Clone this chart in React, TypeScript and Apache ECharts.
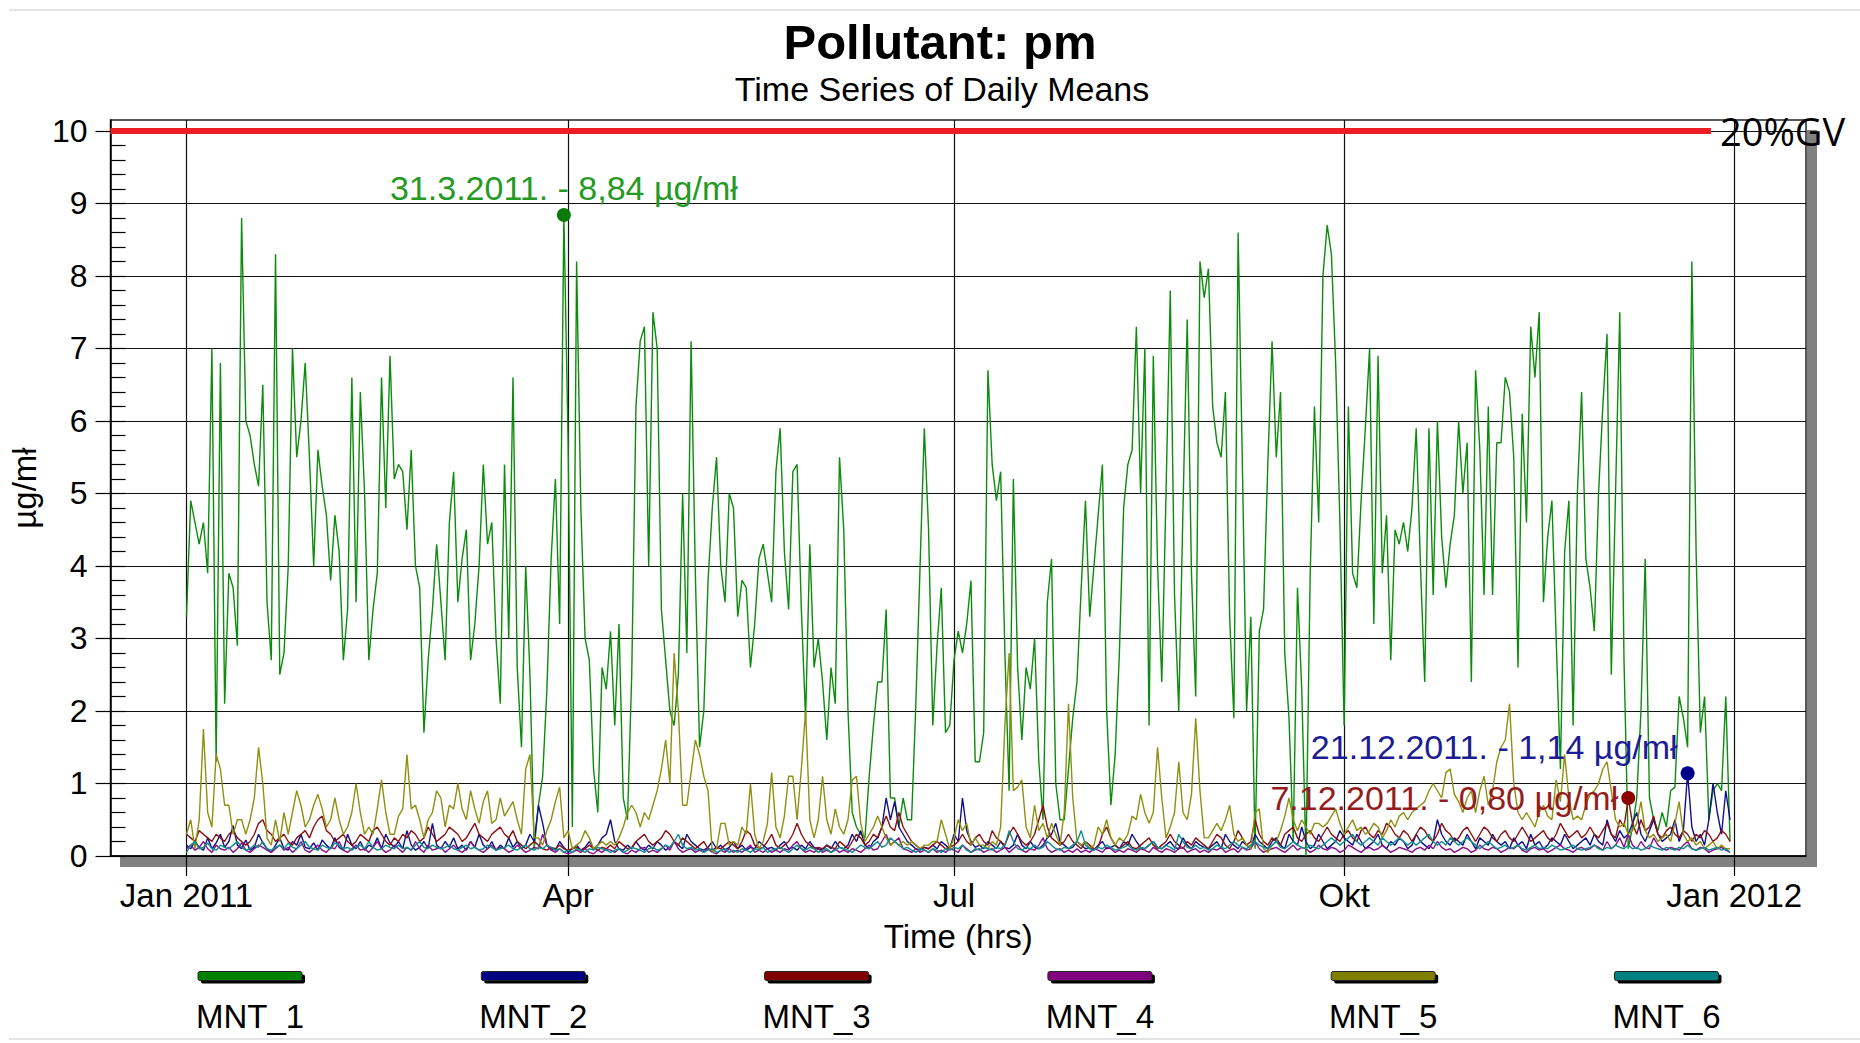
import React, { useEffect, useRef } from 'react';
import * as echarts from 'echarts';

const FONT = '"Liberation Sans", Arial, sans-serif';

const SERIES_NAMES = ['MNT_1', 'MNT_2', 'MNT_3', 'MNT_4', 'MNT_5', 'MNT_6'];
const SERIES_COLORS = ['#0c8c0c', '#10108a', '#8a1010', '#8a108a', '#8f8f10', '#108f8f'];
const LEGEND_COLORS = ['#008000', '#000080', '#800000', '#800080', '#808000', '#008080'];

// daily means, 1 Jan 2011 .. 31 Dec 2011
const MNT_1 = [
  3.3, 4.9, 4.6, 4.3, 4.6, 3.9, 7.0, 1.3, 6.8, 2.1, 3.9, 3.7, 2.9, 8.8, 6.0, 5.8, 5.4, 5.1, 6.5, 3.5,
  2.7, 8.3, 2.5, 2.8, 4.0, 7.0, 5.5, 6.0, 6.8, 5.5, 4.0, 5.6, 5.1, 4.7, 3.8, 4.7, 4.2, 2.7, 3.4, 6.6,
  3.5, 6.4, 5.0, 2.7, 3.4, 3.9, 6.6, 4.8, 6.9, 5.2, 5.4, 5.3, 4.5, 5.6, 4.0, 3.7, 1.7, 2.7, 3.4, 4.3,
  3.5, 2.7, 4.6,
  5.3, 3.5, 4.1, 4.5, 2.7, 3.2, 4.0, 5.4, 4.3, 4.6, 3.0, 2.1, 5.4, 3.0, 6.6,
  2.6, 1.5, 4.0, 2.5, 0.1, 0.7, 1.1, 2.3, 4.1, 5.2, 3.2, 8.84, 5.7, 0.4, 8.2, 4.8, 3.0, 2.7, 1.2, 0.6,
  2.6, 2.3, 3.1, 1.8, 3.2, 0.8, 0.5, 2.5, 6.2, 7.1, 7.3, 4.0, 7.5, 7.0, 3.4, 2.7, 2.0, 1.8, 2.5, 5.0,
  2.8, 7.1, 3.9, 1.5, 2.0, 3.8,
  4.8, 5.5, 4.0, 3.5, 5.0, 4.8, 3.3, 3.8, 3.7, 2.6, 3.2, 4.1, 4.3, 3.9, 3.5, 5.3, 5.9, 4.2, 3.4, 5.3,
  5.4, 3.4, 1.9, 4.3, 2.6, 3.0, 2.4, 1.6, 2.6, 2.1, 5.5, 4.5, 2.0, 0.6, 0.4, 0.3, 0.25, 1.1, 1.8, 2.4,
  2.4, 3.4, 0.8, 0.8, 0.4, 0.8, 0.5, 0.5, 2.1, 4.0, 5.9, 4.5, 1.8, 2.9, 3.7, 1.7, 1.8, 2.7, 3.1, 2.8,
  3.2,
  3.8, 1.3, 1.3, 1.7, 6.7, 5.4, 4.9, 5.3, 2.8, 0.9, 5.2, 2.6, 1.6, 2.6, 2.3, 3.0, 1.3, 0.5, 3.5, 4.1,
  1.0, 0.5, 0.5, 1.2, 1.9, 2.4, 3.7, 4.9, 3.3, 4.0, 4.7, 5.4, 2.0, 0.7, 1.4, 2.8, 4.8, 5.4, 5.6, 7.3,
  5.0, 7.0, 1.8, 6.9, 4.0, 2.4, 5.0, 7.8, 3.6, 2.0, 4.8, 7.4, 3.9, 2.2, 8.2, 7.7, 8.1, 6.2, 5.7, 5.5,
  6.4, 3.3,
  1.9, 8.6, 5.4, 2.0, 3.3, 0.1, 3.1, 3.4, 5.4, 7.1, 5.5, 6.4, 2.8, 1.9, 0.2, 3.7, 2.3, 0.0, 3.9, 6.2,
  4.6, 8.0, 8.7, 8.3, 6.8, 4.6, 1.8, 6.2, 3.9, 3.7, 4.9, 5.9, 7.0, 3.2, 6.9, 3.9, 4.7, 2.7, 4.5, 4.3,
  4.6, 4.2, 4.8, 5.9, 4.0, 2.4, 5.9, 3.6, 6.0, 4.4, 3.7, 4.3, 4.7, 6.0, 5.0, 5.7, 2.4, 6.7, 5.6, 3.6,
  6.2,
  3.6, 5.7, 5.7, 6.6, 6.4, 5.5, 2.6, 6.1, 4.6, 7.3, 6.6, 7.5, 3.5, 4.4, 4.9, 3.0, 1.2, 4.2, 4.9, 1.8,
  5.0, 6.4, 4.1, 3.7, 3.1, 5.0, 6.2, 7.2, 2.5, 5.0, 7.5, 2.7, 0.1, 0.4, 0.8, 2.0, 4.1, 0.8, 0.5, 0.35,
  0.6, 0.4, 0.9, 0.95, 2.2, 1.9, 1.5, 8.2, 4.2, 1.7, 2.2, 0.5, 0.9, 1.0, 0.9, 2.2, 0.2,
];

const MNT_2 = [
  0.15, 0.1, 0.2, 0.12, 0.08, 0.25, 0.1, 0.18, 0.3, 0.12,
  0.2, 0.42, 0.15, 0.1, 0.22, 0.08, 0.12, 0.3, 0.18, 0.1,
  0.05, 0.15, 0.25, 0.1, 0.08, 0.2, 0.15, 0.3, 0.12, 0.1,
  0.18, 0.08, 0.22, 0.15, 0.1, 0.25, 0.12, 0.08, 0.3, 0.15,
  0.1, 0.2, 0.08, 0.15, 0.12, 0.25, 0.1, 0.3, 0.18, 0.12,
  0.2, 0.1, 0.35, 0.15, 0.08, 0.12, 0.2, 0.1, 0.45, 0.15,
  0.1, 0.2, 0.12, 0.25, 0.1, 0.15, 0.08, 0.2, 0.12, 0.3,
  0.15, 0.1, 0.2, 0.08, 0.15, 0.1, 0.25, 0.12, 0.2, 0.1,
  0.15, 0.3, 0.2, 0.7, 0.45, 0.15, 0.1, 0.08, 0.2, 0.12,
  0.05, 0.1, 0.15, 0.08, 0.12, 0.2, 0.1, 0.15, 0.25, 0.3,
  0.5, 0.2, 0.1, 0.08, 0.15, 0.1, 0.2, 0.12, 0.08, 0.15,
  0.1, 0.2, 0.15, 0.08, 0.12, 0.2, 0.15, 0.1, 0.3, 0.2,
  0.15, 0.1, 0.08, 0.12, 0.2, 0.1, 0.15, 0.08, 0.12, 0.2,
  0.1, 0.15, 0.08, 0.12, 0.1, 0.2, 0.15, 0.1, 0.12, 0.08,
  0.15, 0.2, 0.1, 0.12, 0.08, 0.15, 0.1, 0.2, 0.12, 0.1,
  0.08, 0.15, 0.1, 0.2, 0.12, 0.1, 0.15, 0.3, 0.2, 0.35,
  0.15, 0.1, 0.2, 0.25, 0.4, 0.8, 0.5, 0.75, 0.4, 0.3,
  0.2, 0.15, 0.1, 0.08, 0.12, 0.1, 0.15, 0.1, 0.2, 0.15,
  0.1, 0.3, 0.2, 0.8, 0.35, 0.2, 0.12, 0.15, 0.1, 0.2,
  0.15, 0.1, 0.2, 0.12, 0.1, 0.15, 0.3, 0.15, 0.1, 0.2,
  0.12, 0.1, 0.15, 0.25, 0.3, 0.45, 0.2, 0.15, 0.1, 0.12,
  0.2, 0.15, 0.1, 0.12, 0.08, 0.15, 0.2, 0.1, 0.12, 0.15,
  0.1, 0.2, 0.15, 0.3, 0.2, 0.12, 0.1, 0.15, 0.2, 0.12,
  0.1, 0.15, 0.2, 0.12, 0.1, 0.25, 0.15, 0.1, 0.2, 0.15,
  0.12, 0.1, 0.15, 0.2, 0.1, 0.3, 0.2, 0.15, 0.1, 0.2,
  0.15, 0.1, 0.3, 0.2, 0.15, 0.1, 0.2, 0.25, 0.15, 0.1,
  0.3, 0.2, 0.15, 0.4, 0.2, 0.1, 0.15, 0.3, 0.2, 0.1,
  0.15, 0.2, 0.35, 0.25, 0.2, 0.15, 0.3, 0.2, 0.1, 0.15,
  0.2, 0.3, 0.15, 0.1, 0.2, 0.15, 0.25, 0.2, 0.1, 0.15,
  0.3, 0.2, 0.15, 0.1, 0.2, 0.5, 0.3, 0.2, 0.15, 0.25,
  0.2, 0.15, 0.3, 0.2, 0.1, 0.25, 0.2, 0.15, 0.3, 0.2,
  0.15, 0.2, 0.1, 0.25, 0.15, 0.2, 0.1, 0.3, 0.15, 0.2,
  0.1, 0.15, 0.25, 0.2, 0.15, 0.3, 0.2, 0.1, 0.15, 0.2,
  0.25, 0.15, 0.3, 0.2, 0.15, 0.5, 0.3, 0.2, 0.35, 0.25,
  0.3, 0.45, 0.6, 0.3, 0.2, 0.35, 0.5, 0.3, 0.2, 0.25,
  0.3, 0.5, 0.2, 0.35, 1.14, 0.4, 0.2, 0.3, 0.15, 0.5,
  1.0, 0.6, 0.3, 0.9, 0.5,
];

const MNT_3 = [
  0.3, 0.25, 0.2, 0.35, 0.3, 0.25, 0.2, 0.3, 0.25, 0.2,
  0.3, 0.35, 0.25, 0.2, 0.15, 0.2, 0.3, 0.45, 0.5, 0.35,
  0.3, 0.2, 0.25, 0.3, 0.2, 0.15, 0.25, 0.3, 0.35, 0.25,
  0.4, 0.5, 0.55, 0.35, 0.3, 0.2, 0.25, 0.3, 0.2, 0.15,
  0.2, 0.3, 0.25, 0.2, 0.35, 0.4, 0.3, 0.2, 0.15, 0.25,
  0.2, 0.3, 0.25, 0.35, 0.3, 0.2, 0.25, 0.4, 0.3, 0.2,
  0.25, 0.3, 0.4, 0.35, 0.3, 0.2, 0.25, 0.35, 0.45, 0.3,
  0.25, 0.2, 0.3, 0.35, 0.4, 0.3, 0.25, 0.35, 0.2, 0.15,
  0.1, 0.15, 0.2, 0.15, 0.1, 0.08, 0.12, 0.1, 0.15, 0.1,
  0.08, 0.1, 0.12, 0.08, 0.1, 0.15, 0.1, 0.08, 0.12, 0.1,
  0.15, 0.1, 0.2, 0.15, 0.1, 0.12, 0.2, 0.25, 0.3, 0.2,
  0.15, 0.2, 0.25, 0.35, 0.3, 0.2, 0.15, 0.25, 0.2, 0.15,
  0.1, 0.15, 0.2, 0.1, 0.08, 0.12, 0.1, 0.15, 0.2, 0.15,
  0.1, 0.2, 0.35, 0.3, 0.15, 0.1, 0.12, 0.2, 0.3, 0.15,
  0.1, 0.15, 0.2, 0.3, 0.45, 0.3, 0.2, 0.15, 0.1, 0.12,
  0.1, 0.15, 0.12, 0.1, 0.2, 0.15, 0.1, 0.2, 0.3, 0.25,
  0.15, 0.2, 0.3, 0.25, 0.4, 0.55, 0.4, 0.35, 0.6, 0.4,
  0.3, 0.2, 0.15, 0.1, 0.12, 0.1, 0.15, 0.2, 0.15, 0.1,
  0.12, 0.15, 0.2, 0.3, 0.2, 0.15, 0.25, 0.3, 0.2, 0.15,
  0.35, 0.25, 0.2, 0.15, 0.3, 0.4, 0.3, 0.2, 0.15, 0.2,
  0.3, 0.5, 0.7, 0.4, 0.25, 0.2, 0.15, 0.2, 0.3, 0.2,
  0.15, 0.1, 0.2, 0.15, 0.1, 0.12, 0.3, 0.4, 0.25, 0.15,
  0.1, 0.15, 0.2, 0.12, 0.1, 0.15, 0.2, 0.25, 0.15, 0.1,
  0.15, 0.2, 0.3, 0.2, 0.15, 0.1, 0.2, 0.15, 0.25, 0.2,
  0.15, 0.1, 0.2, 0.3, 0.25, 0.15, 0.1, 0.2, 0.35, 0.25,
  0.15, 0.2, 0.5, 0.3, 0.2, 0.15, 0.25, 0.2, 0.15, 0.3,
  0.35, 0.4, 0.25, 0.2, 0.3, 0.35, 0.25, 0.2, 0.3, 0.4,
  0.3, 0.25, 0.2, 0.3, 0.35, 0.25, 0.2, 0.35, 0.4, 0.3,
  0.25, 0.35, 0.3, 0.45, 0.4, 0.3, 0.25, 0.35, 0.3, 0.2,
  0.3, 0.4, 0.35, 0.25, 0.2, 0.3, 0.45, 0.35, 0.3, 0.2,
  0.25, 0.35, 0.4, 0.3, 0.2, 0.3, 0.4, 0.35, 0.25, 0.2,
  0.3, 0.35, 0.25, 0.2, 0.3, 0.4, 0.3, 0.2, 0.25, 0.3,
  0.35, 0.25, 0.2, 0.3, 0.45, 0.35, 0.25, 0.3, 0.35, 0.25,
  0.3, 0.4, 0.3, 0.25, 0.35, 0.45, 0.3, 0.25, 0.5, 0.4,
  0.8, 0.45, 0.3, 0.5, 0.35, 0.4, 0.55, 0.3, 0.25, 0.35,
  0.4, 0.3, 0.25, 0.35, 0.3, 0.2, 0.3, 0.25, 0.35, 0.3,
  0.2, 0.25, 0.35, 0.3, 0.2,
];

const MNT_4 = [
  0.1, 0.15, 0.08, 0.12, 0.2, 0.1, 0.05, 0.15, 0.1, 0.08,
  0.12, 0.05, 0.1, 0.18, 0.08, 0.05, 0.1, 0.15, 0.12, 0.08,
  0.05, 0.1, 0.15, 0.08, 0.12, 0.05, 0.1, 0.2, 0.08, 0.05,
  0.1, 0.15, 0.08, 0.05, 0.12, 0.1, 0.2, 0.08, 0.05, 0.1,
  0.15, 0.08, 0.1, 0.05, 0.12, 0.2, 0.1, 0.05, 0.08, 0.15,
  0.1, 0.05, 0.12, 0.08, 0.2, 0.1, 0.05, 0.15, 0.08, 0.1,
  0.12, 0.05, 0.1, 0.15, 0.08, 0.05, 0.1, 0.2, 0.12, 0.08,
  0.05, 0.1, 0.15, 0.08, 0.12, 0.1, 0.05, 0.08, 0.15, 0.1,
  0.05, 0.08, 0.12, 0.1, 0.3, 0.15, 0.08, 0.05, 0.1, 0.05,
  0.03, 0.05, 0.08, 0.05, 0.1, 0.05, 0.03, 0.08, 0.05, 0.1,
  0.08, 0.05, 0.1, 0.05, 0.03, 0.08, 0.05, 0.1, 0.12, 0.05,
  0.08, 0.05, 0.1, 0.15, 0.08, 0.2, 0.1, 0.05, 0.08, 0.1,
  0.05, 0.08, 0.05, 0.1, 0.05, 0.03, 0.08, 0.05, 0.1, 0.05,
  0.08, 0.05, 0.1, 0.15, 0.05, 0.08, 0.05, 0.1, 0.05, 0.08,
  0.05, 0.1, 0.08, 0.15, 0.2, 0.1, 0.05, 0.08, 0.05, 0.1,
  0.05, 0.08, 0.05, 0.1, 0.05, 0.08, 0.05, 0.1, 0.08, 0.05,
  0.1, 0.15, 0.08, 0.1, 0.2, 0.3, 0.15, 0.2, 0.25, 0.1,
  0.08, 0.05, 0.1, 0.05, 0.08, 0.05, 0.1, 0.05, 0.08, 0.05,
  0.1, 0.08, 0.05, 0.15, 0.1, 0.05, 0.08, 0.1, 0.05, 0.08,
  0.1, 0.05, 0.08, 0.12, 0.05, 0.1, 0.15, 0.08, 0.05, 0.1,
  0.08, 0.15, 0.25, 0.1, 0.05, 0.08, 0.1, 0.05, 0.08, 0.05,
  0.1, 0.05, 0.08, 0.05, 0.1, 0.08, 0.05, 0.12, 0.1, 0.05,
  0.08, 0.05, 0.1, 0.08, 0.05, 0.1, 0.08, 0.05, 0.12, 0.08,
  0.05, 0.1, 0.08, 0.05, 0.1, 0.12, 0.05, 0.08, 0.1, 0.05,
  0.08, 0.05, 0.1, 0.08, 0.12, 0.05, 0.08, 0.1, 0.05, 0.12,
  0.08, 0.1, 0.2, 0.1, 0.05, 0.08, 0.1, 0.12, 0.08, 0.05,
  0.1, 0.15, 0.08, 0.12, 0.1, 0.05, 0.08, 0.15, 0.1, 0.08,
  0.12, 0.1, 0.05, 0.08, 0.15, 0.12, 0.08, 0.05, 0.1, 0.12,
  0.08, 0.1, 0.15, 0.1, 0.05, 0.08, 0.12, 0.1, 0.08, 0.05,
  0.1, 0.12, 0.08, 0.15, 0.1, 0.2, 0.12, 0.08, 0.1, 0.05,
  0.08, 0.12, 0.1, 0.05, 0.08, 0.15, 0.1, 0.08, 0.12, 0.1,
  0.05, 0.08, 0.12, 0.1, 0.15, 0.08, 0.05, 0.1, 0.12, 0.08,
  0.1, 0.05, 0.08, 0.12, 0.15, 0.1, 0.08, 0.05, 0.1, 0.12,
  0.08, 0.1, 0.15, 0.12, 0.08, 0.2, 0.1, 0.15, 0.25, 0.12,
  0.3, 0.15, 0.1, 0.2, 0.12, 0.1, 0.25, 0.15, 0.1, 0.08,
  0.12, 0.1, 0.08, 0.15, 0.2, 0.1, 0.08, 0.12, 0.1, 0.05,
  0.08, 0.1, 0.12, 0.08, 0.05,
];

const MNT_5 = [
  0.3, 0.5, 0.1, 0.5, 1.75, 0.6, 0.4, 1.4, 1.2, 0.7, 0.7, 0.3, 0.5, 0.5, 0.3, 0.5, 0.8, 1.5, 1.0, 0.25,
  0.15, 0.5, 0.2, 0.6, 0.3, 0.6, 0.9, 0.7, 0.4, 0.5, 0.7, 0.85, 0.65, 0.4, 0.5, 0.8, 0.5, 0.3, 0.4, 0.6,
  1.0, 0.6, 0.3, 0.4, 0.3, 0.65, 1.05, 0.6, 0.3, 0.3, 0.55, 0.65, 1.4, 0.65, 0.7, 0.5, 0.25, 0.5, 0.6, 0.9,
  0.8, 0.4, 0.7,
  0.65, 1.0, 0.65, 0.5, 0.9, 0.65, 0.45, 0.75, 0.9, 0.45, 0.5, 0.8, 0.55, 0.65, 0.75, 0.5, 0.3, 1.2, 1.4, 0.25,
  0.25, 0.15, 0.35, 0.5, 0.75, 0.95, 0.25, 0.35, 0.1, 0.15, 0.2, 0.35, 0.25, 0.1, 0.15, 0.2, 0.15, 0.2, 0.15, 0.25,
  0.4, 0.6, 0.7, 0.6, 0.4, 0.6, 0.5, 0.7, 0.9, 1.2, 1.6, 1.0, 2.8, 2.0, 0.7, 0.7, 1.15, 1.6, 1.4, 1.1,
  0.9,
  0.05, 0.1, 0.45, 0.45, 0.15, 0.2, 0.15, 0.4, 0.3, 1.0, 0.3, 0.1, 0.2, 0.45, 1.15, 0.4, 0.25, 0.55, 1.1, 1.1,
  0.5, 1.2, 2.0, 0.5, 0.25, 0.5, 1.1, 0.5, 0.3, 0.65, 0.4, 0.3, 0.5, 1.05, 1.1, 0.45, 0.2, 0.3, 0.4, 0.55,
  0.4, 0.25, 0.15, 0.2, 0.15, 0.2, 0.15, 0.2, 0.15, 0.1, 0.15, 0.15, 0.2, 0.2, 0.5, 0.3, 0.1, 0.25, 0.5, 0.35,
  0.45,
  0.15, 0.25, 0.15, 0.15, 0.1, 0.2, 0.15, 0.4, 1.8, 2.8, 0.9, 0.95, 1.05, 0.4, 0.25, 0.7, 0.35, 0.45, 0.25, 0.45,
  0.3, 0.15, 0.6, 2.1, 0.8, 0.2, 0.15, 0.2, 0.1, 0.15, 0.4, 0.3, 0.5, 0.25, 0.15, 0.25, 0.2, 0.3, 0.55, 0.5,
  0.85, 0.6, 0.45, 0.6, 1.5, 0.8, 0.25, 0.4, 0.6, 1.3, 0.6, 0.5, 0.85, 1.9, 0.9, 0.25, 0.25, 0.35, 0.45, 0.35,
  0.5, 0.7,
  0.3, 0.2, 0.25, 0.15, 0.1, 0.6, 0.65, 0.1, 0.05, 0.15, 0.2, 0.35, 0.55, 0.8, 0.5, 0.35, 0.5, 0.4, 0.3, 0.45,
  0.45, 0.4, 0.45, 0.55, 0.65, 0.45, 0.3, 0.4, 0.5, 0.35, 0.4, 0.3, 0.35, 0.45, 0.4, 0.25, 0.35, 0.5, 0.4, 0.55,
  0.6, 0.5, 0.6, 0.65, 0.7, 0.75, 0.9, 1.0, 0.9, 0.8, 1.15, 1.2, 0.85, 0.75, 0.6, 0.8, 0.9, 0.6, 0.9, 1.1,
  0.7,
  0.9, 1.3, 1.5, 1.6, 2.1, 1.0, 0.6, 0.5, 0.6, 0.5, 0.4, 0.6, 0.7, 0.55, 0.5, 1.05, 0.75, 1.4, 0.8, 0.5,
  0.55, 0.5, 0.7, 0.85, 0.9, 1.0, 1.2, 1.3, 0.9, 0.5, 0.4, 0.45, 0.3, 0.35, 0.45, 0.75, 0.35, 0.25, 0.3, 0.2,
  0.25, 0.3, 0.2, 0.45, 0.75, 0.3, 0.2, 0.25, 0.15, 0.2, 0.1, 0.15, 0.2, 0.1, 0.15, 0.1, 0.1,
];

const MNT_6 = [
  0.05, 0.15, 0.2, 0.1, 0.12, 0.18, 0.1, 0.08, 0.15, 0.12,
  0.1, 0.15, 0.2, 0.12, 0.08, 0.1, 0.15, 0.12, 0.2, 0.1,
  0.08, 0.12, 0.15, 0.1, 0.18, 0.12, 0.1, 0.15, 0.2, 0.12,
  0.1, 0.08, 0.15, 0.12, 0.1, 0.18, 0.15, 0.1, 0.12, 0.08,
  0.12, 0.15, 0.1, 0.2, 0.12, 0.08, 0.1, 0.15, 0.12, 0.1,
  0.15, 0.1, 0.12, 0.08, 0.15, 0.2, 0.12, 0.1, 0.15, 0.12,
  0.1, 0.12, 0.15, 0.1, 0.08, 0.12, 0.15, 0.1, 0.12, 0.08,
  0.1, 0.15, 0.12, 0.08, 0.1, 0.12, 0.15, 0.1, 0.08, 0.12,
  0.15, 0.1, 0.08, 0.12, 0.1, 0.15, 0.12, 0.08, 0.1, 0.05,
  0.08, 0.05, 0.1, 0.08, 0.05, 0.1, 0.08, 0.12, 0.1, 0.08,
  0.05, 0.08, 0.1, 0.05, 0.08, 0.12, 0.1, 0.08, 0.05, 0.1,
  0.12, 0.08, 0.1, 0.15, 0.12, 0.2, 0.3, 0.15, 0.1, 0.12,
  0.08, 0.1, 0.05, 0.08, 0.1, 0.05, 0.08, 0.1, 0.05, 0.08,
  0.05, 0.1, 0.08, 0.05, 0.1, 0.08, 0.12, 0.05, 0.08, 0.1,
  0.12, 0.08, 0.05, 0.1, 0.15, 0.1, 0.08, 0.12, 0.1, 0.05,
  0.08, 0.1, 0.05, 0.08, 0.12, 0.1, 0.08, 0.05, 0.1, 0.15,
  0.12, 0.1, 0.15, 0.2, 0.12, 0.15, 0.25, 0.2, 0.15, 0.1,
  0.12, 0.08, 0.05, 0.1, 0.08, 0.05, 0.1, 0.08, 0.05, 0.1,
  0.08, 0.12, 0.1, 0.15, 0.08, 0.05, 0.1, 0.08, 0.12, 0.1,
  0.08, 0.12, 0.1, 0.15, 0.35, 0.2, 0.1, 0.08, 0.12, 0.1,
  0.15, 0.1, 0.12, 0.2, 0.15, 0.1, 0.08, 0.12, 0.1, 0.15,
  0.2, 0.35, 0.15, 0.1, 0.08, 0.12, 0.1, 0.15, 0.12, 0.08,
  0.1, 0.12, 0.15, 0.1, 0.08, 0.12, 0.1, 0.15, 0.2, 0.12,
  0.1, 0.15, 0.12, 0.08, 0.3, 0.2, 0.12, 0.1, 0.15, 0.1,
  0.12, 0.08, 0.1, 0.15, 0.12, 0.1, 0.15, 0.2, 0.15, 0.12,
  0.1, 0.15, 0.2, 0.15, 0.12, 0.1, 0.15, 0.2, 0.12, 0.1,
  0.15, 0.2, 0.15, 0.12, 0.1, 0.15, 0.12, 0.1, 0.15, 0.2,
  0.25, 0.2, 0.15, 0.2, 0.25, 0.3, 0.2, 0.15, 0.2, 0.25,
  0.2, 0.15, 0.25, 0.2, 0.15, 0.2, 0.25, 0.2, 0.15, 0.2,
  0.15, 0.2, 0.25, 0.3, 0.2, 0.15, 0.2, 0.15, 0.25, 0.2,
  0.15, 0.2, 0.25, 0.2, 0.15, 0.1, 0.15, 0.2, 0.15, 0.1,
  0.12, 0.15, 0.1, 0.12, 0.15, 0.1, 0.08, 0.12, 0.15, 0.1,
  0.12, 0.1, 0.15, 0.12, 0.08, 0.1, 0.12, 0.15, 0.1, 0.08,
  0.1, 0.12, 0.15, 0.1, 0.08, 0.12, 0.1, 0.15, 0.12, 0.1,
  0.15, 0.1, 0.12, 0.08, 0.1, 0.15, 0.12, 0.1, 0.08, 0.12,
  0.1, 0.08, 0.12, 0.1, 0.15, 0.1, 0.08, 0.1, 0.12, 0.08,
  0.1, 0.12, 0.08, 0.1, 0.05,
];

const SERIES_VALUES = [MNT_1, MNT_2, MNT_3, MNT_4, MNT_5, MNT_6];

const START_DAY = [2011, 0, 1];
const X_MIN = [2010, 11, 14, 2];
const X_MAX = [2012, 0, 17, 22];
const TICK_DATES = [[2011, 0, 1], [2011, 3, 1], [2011, 6, 1], [2011, 9, 1], [2012, 0, 1]];
const TICK_LABELS = ['Jan 2011', 'Apr', 'Jul', 'Okt', 'Jan 2012'];
const Y_TICKS = [0, 1, 2, 3, 4, 5, 6, 7, 8, 9, 10];
const Y_MAX = 10.15;

const LIMIT_VALUE = 10;
const LIMIT_LABEL = '20%GV';
const LIMIT_END = [2011, 11, 26, 12];

// which series get a max annotation, and label styling
const ANNOTATED = [
  { series: 0, text: '#249a24', point: '#0a7a0a', position: [7, -20], align: 'center' },
  { series: 1, text: '#1c1c96', point: '#00008b', position: [-3, -19], align: 'right' },
  { series: 2, text: '#951c1c', point: '#8b0000', position: [-3, 7], align: 'right' },
];

const ts = (a: number[]) => new Date(a[0], a[1], a[2], a[3] || 0).getTime();
const dayTs = (i: number) => new Date(START_DAY[0], START_DAY[1], START_DAY[2] + i).getTime();

function fmtLabel(i: number, v: number) {
  const d = new Date(START_DAY[0], START_DAY[1], START_DAY[2] + i);
  return `${d.getDate()}.${d.getMonth() + 1}.${d.getFullYear()}. - ${v.toFixed(2).replace('.', ',')} µg/mł`;
}

export default function App() {
  const ref = useRef<HTMLDivElement>(null);

  useEffect(() => {
    if (!ref.current) return;
    const chart = echarts.init(ref.current, null, { renderer: 'svg' });

    const tickTs = TICK_DATES.map(ts);

    const series: any[] = SERIES_VALUES.map((vals, si) => {
      const s: any = {
        name: SERIES_NAMES[si],
        type: 'line',
        xAxisIndex: 0,
        yAxisIndex: 0,
        showSymbol: false,
        symbol: 'none',
        silent: true,
        lineStyle: { color: SERIES_COLORS[si], width: 1.4 },
        itemStyle: { color: SERIES_COLORS[si] },
        data: vals.map((v, i) => [dayTs(i), v]),
        z: 2,
      };
      const ann = ANNOTATED.find((a) => a.series === si);
      if (ann) {
        let mi = 0;
        vals.forEach((v, i) => { if (v > vals[mi]) mi = i; });
        s.markPoint = {
          symbol: 'circle',
          symbolSize: 14,
          silent: true,
          animation: false,
          itemStyle: { color: ann.point },
          data: [{
            coord: [dayTs(mi), vals[mi]],
            value: vals[mi],
            label: {
              show: true,
              position: ann.position,
              align: ann.align,
              verticalAlign: 'middle',
              formatter: fmtLabel(mi, vals[mi]),
              color: ann.text,
              fontSize: 34,
              fontFamily: FONT,
            },
          }],
        };
      }
      if (si === 0) {
        s.markLine = {
          silent: true,
          animation: false,
          symbol: ['none', 'none'],
          lineStyle: { color: '#ee1c25', width: 6, type: 'solid' },
          label: {
            show: true,
            position: 'end',
            distance: 9,
            formatter: LIMIT_LABEL,
            color: '#000',
            fontSize: 38,
            fontFamily: '"Open Sans", "DejaVu Sans", sans-serif',
            padding: [9, 0, 0, 0],
          },
          data: [[{ coord: [ts(X_MIN), LIMIT_VALUE] }, { coord: [ts(LIMIT_END), LIMIT_VALUE] }]],
        };
      }
      return s;
    });

    const LEG_X0 = 250, LEG_STEP = 283.3, LEG_W = 104, LEG_H = 9, LEG_Y = 976, LEG_TY = 1016;
    const legendEls: any[] = [];
    SERIES_NAMES.forEach((n, i) => {
      const cx = LEG_X0 + i * LEG_STEP;
      legendEls.push({
        type: 'rect', silent: true,
        shape: { x: cx - LEG_W / 2 + 3, y: LEG_Y - LEG_H / 2 + 3, width: LEG_W, height: LEG_H, r: 2 },
        style: { fill: '#000' },
      });
      legendEls.push({
        type: 'rect', silent: true,
        shape: { x: cx - LEG_W / 2, y: LEG_Y - LEG_H / 2, width: LEG_W, height: LEG_H, r: 2 },
        style: { fill: LEGEND_COLORS[i], stroke: '#222', lineWidth: 1 },
      });
      legendEls.push({
        type: 'text', silent: true,
        x: cx, y: LEG_TY,
        style: {
          text: n, fill: '#000', fontSize: 33, fontFamily: FONT,
          align: 'center', verticalAlign: 'middle', textAlign: 'center', textVerticalAlign: 'middle',
        },
      });
    });

    const option: any = {
      animation: false,
      backgroundColor: '#fff',
      textStyle: { fontFamily: FONT },
      title: [
        {
          text: 'Pollutant: pm', left: 940, top: 17, textAlign: 'center', padding: 0,
          textStyle: { fontSize: 49, fontWeight: 'bold', color: '#000', fontFamily: FONT, lineHeight: 49 },
        },
        {
          text: 'Time Series of Daily Means', left: 942, top: 72, textAlign: 'center', padding: 0,
          textStyle: { fontSize: 34, fontWeight: 'normal', color: '#000', fontFamily: FONT, lineHeight: 34 },
        },
      ],
      grid: {
        left: 108, top: 120, width: 1698, height: 736,
        show: true, borderColor: '#222', borderWidth: 1.5, backgroundColor: 'transparent',
        containLabel: false,
      },
      xAxis: {
        type: 'value',
        min: ts(X_MIN),
        max: ts(X_MAX),
        axisLine: { show: true, onZero: false, lineStyle: { color: '#000', width: 1.5 } },
        axisTick: { show: true, customValues: tickTs, length: 20, lineStyle: { color: '#000', width: 1.2 } },
        axisLabel: {
          customValues: tickTs,
          formatter: (v: number) => {
            const k = tickTs.indexOf(v);
            return k >= 0 ? TICK_LABELS[k] : '';
          },
          fontSize: 33, lineHeight: 33, color: '#000', margin: 23, fontFamily: FONT,
          hideOverlap: false,
        },
        splitLine: { show: true, lineStyle: { color: '#111', width: 1.2 } },
        name: 'Time (hrs)',
        nameLocation: 'middle',
        nameGap: 64,
        nameTextStyle: { fontSize: 33, lineHeight: 33, color: '#000', fontFamily: FONT },
      },
      yAxis: [
        {
          type: 'value', position: 'left', min: 0, max: Y_MAX, interval: 1,
          axisLine: { show: true, lineStyle: { color: '#000', width: 1.5 } },
          axisTick: { show: true, inside: false, length: 15, customValues: Y_TICKS, lineStyle: { color: '#000', width: 1.2 } },
          axisLabel: {
            customValues: Y_TICKS, fontSize: 32, color: '#000', margin: 23, fontFamily: FONT,
            formatter: (v: number) => String(v),
          },
          splitLine: { show: true, lineStyle: { color: '#111', width: 1.2 } },
          name: 'µg/mł',
          nameLocation: 'middle',
          nameGap: 65,
          nameRotate: 90,
          nameTextStyle: { fontSize: 33, lineHeight: 33, color: '#000', fontFamily: FONT },
        },
        {
          type: 'value', position: 'left', min: 0, max: Y_MAX, interval: 1, offset: 0,
          axisLine: { show: false },
          axisLabel: { show: false },
          splitLine: { show: false },
          axisTick: { show: true, inside: true, length: 15, customValues: Y_TICKS, lineStyle: { color: '#000', width: 1.2 } },
          minorTick: { show: true, splitNumber: 5, length: 15, lineStyle: { color: '#000', width: 1.2 } },
        },
      ],
      series,
      graphic: [
        {
          type: 'line', silent: true, z: -10,
          shape: { x1: 9, y1: 10, x2: 1860, y2: 10 },
          style: { stroke: '#e4e4e4', lineWidth: 2 },
        },
        {
          type: 'line', silent: true, z: -10,
          shape: { x1: 9, y1: 1039, x2: 1860, y2: 1039 },
          style: { stroke: '#e4e4e4', lineWidth: 2 },
        },
        { type: 'rect', silent: true, shape: { x: 1807, y: 130, width: 10, height: 737 }, style: { fill: '#808080' } },
        { type: 'rect', silent: true, shape: { x: 120, y: 857, width: 1697, height: 10 }, style: { fill: '#808080' } },
        ...legendEls,
      ],
    };

    chart.setOption(option);
    return () => chart.dispose();
  }, []);

  return (
    <div
      ref={ref}
      style={{ position: 'fixed', left: 0, top: 0, width: 1860, height: 1043, background: '#fff' }}
    />
  );
}
